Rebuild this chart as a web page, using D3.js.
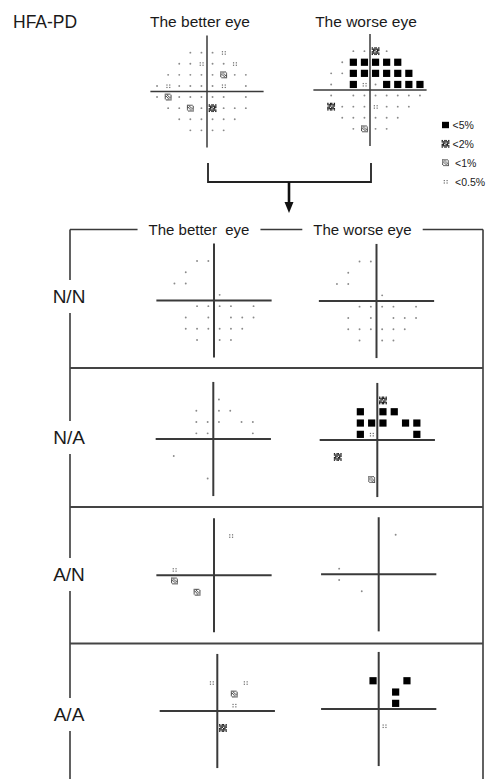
<!DOCTYPE html>
<html><head><meta charset="utf-8">
<script src="https://cdn.jsdelivr.net/npm/d3@7"></script>
<style>
body{margin:0;background:#fff}
svg{display:block}
text{font-family:"Liberation Sans",Arial,sans-serif;fill:#1a1a1a;white-space:pre}
</style>
</head><body>
<svg id="c" width="488" height="779"></svg>
<script>
// ---------------- DATA ----------------
// levels: 0 = normal point, 1 = "::", 2 = "<1%" glyph, 3 = "<2%" glyph, 4 = black square
const legendLevels = [4, 3, 2, 1];
const legendLabels = ["<5%", "<2%", "<1%", "<0.5%"];
const headerTitle = "HFA-PD";
const topTitles = ["The better eye", "The worse eye"];
const columnTitles = ["The better  eye", "The worse eye"];
const rowLabels = ["N/N", "N/A", "A/N", "A/A"];

// top fields, row by row: [row, first column, levels...] (null = blind spot)
const topBetterRows = [
  [-3.5, -1.5, 0, 0, 0, 1],
  [-2.5, -2.5, 0, 0, 1, 0, 0, 1],
  [-1.5, -3.5, 0, 0, 0, 0, 0, 2, 0, 0],
  [-0.5, -4.5, 0, 1, 0, 0, 0, 0, 1, null, 0],
  [ 0.5, -4.5, 0, 2, 0, 0, 0, 0, 0, null, 0],
  [ 1.5, -3.5, 0, 0, 2, 0, 3, 0, 0, 0],
  [ 2.5, -2.5, 0, 0, 0, 0, 0, 0],
  [ 3.5, -1.5, 0, 0, 0, 0]
];
const topWorseRows = [
  [-3.5, -1.5, 0, 0, 3, 0],
  [-2.5, -2.5, 0, 4, 4, 4, 4, 4],
  [-1.5, -3.5, 0, 0, 4, 4, 4, 4, 4, 4],
  [-0.5, -3.5, 0, null, 4, 1, 0, 4, 4, 4, 4],
  [ 0.5, -3.5, 0, null, 0, 0, 0, 0, 0, 0, 0],
  [ 1.5, -3.5, 3, 0, 0, 0, 1, 0, 0, 0],
  [ 2.5, -2.5, 0, 0, 0, 0, 0, 0],
  [ 3.5, -1.5, 0, 2, 0, 0]
];

// lower panels: [column, row, level]
const nnBetter = [[-1.5,-3.5,0],[-0.5,-3.5,0],[-2.5,-2.5,0],[-3.5,-1.5,0],[-2.5,-1.5,0],[0.5,-0.5,0],
  [-1.5,0.5,0],[-0.5,0.5,0],[0.5,0.5,0],[1.5,0.5,0],[3.5,0.5,0],
  [-2.5,1.5,0],[-0.5,1.5,0],[1.5,1.5,0],[2.5,1.5,0],[3.5,1.5,0],
  [-2.5,2.5,0],[-1.5,2.5,0],[-0.5,2.5,0],[0.5,2.5,0],[1.5,2.5,0],[2.5,2.5,0],
  [-1.5,3.5,0],[0.5,3.5,0],[1.5,3.5,0]];
const nnWorse = [[-1.5,-3.5,0],[-0.5,-3.5,0],[-2.5,-2.5,0],[-3.5,-1.5,0],[-2.5,-1.5,0],[0.5,-0.5,0],
  [-1.5,0.5,0],[-0.5,0.5,0],[0.5,0.5,0],[1.5,0.5,0],[3.5,0.5,0],
  [-2.5,1.5,0],[-0.5,1.5,0],[1.5,1.5,0],[2.5,1.5,0],[3.5,1.5,0],
  [-2.5,2.5,0],[-1.5,2.5,0],[-0.5,2.5,0],[0.5,2.5,0],[1.5,2.5,0],[2.5,2.5,0],
  [-1.5,3.5,0],[0.5,3.5,0],[1.5,3.5,0]];
const naBetter = [[0.5,-3.5,0],[-1.5,-2.5,0],[0.5,-2.5,0],[1.5,-2.5,0],
  [-1.5,-1.5,0],[-0.5,-1.5,0],[0.5,-1.5,0],[2.5,-1.5,0],[3.5,-1.5,0],
  [-1.5,-0.5,0],[-0.5,-0.5,0],[3.5,-0.5,0],[-3.5,1.5,0],[-0.5,3.5,0]];
const naWorse = [[0.5,-3.5,3],[-1.5,-2.5,4],[0.5,-2.5,4],[1.5,-2.5,4],
  [-1.5,-1.5,4],[-0.5,-1.5,4],[0.5,-1.5,4],[2.5,-1.5,4],[3.5,-1.5,4],
  [-1.5,-0.5,4],[-0.5,-0.5,1],[3.5,-0.5,4],[-3.5,1.5,3],[-0.5,3.5,2]];
const anBetter = [[1.5,-3.5,1],[-3.5,-0.5,1],[-3.5,0.5,2],[-1.5,1.5,2]];
const anWorse = [[1.5,-3.5,0],[-3.5,-0.5,0],[-3.5,0.5,0],[-1.5,1.5,0]];
const aaBetter = [[-0.5,-2.5,1],[2.5,-2.5,1],[1.5,-1.5,2],[1.5,-0.5,1],[0.5,1.5,3]];
const aaWorse = [[-0.5,-2.5,4],[2.5,-2.5,4],[1.5,-1.5,4],[1.5,-0.5,4],[0.5,1.5,1]];

// ---------------- DRAWING ----------------
const svg = d3.select("#c");
const LINE = "#3a3a3a";

const glyph2 = ["111110","101001","110101","101011","100101","011111"];
const glyph3 = ["101101","111111","011011","110110","111111","101101"];

function drawSymbol(g, x, y, lv) {
  if (lv === 0) {
    g.append("circle").attr("cx", x).attr("cy", y).attr("r", 0.95).attr("fill", "#8a8a8a");
  } else if (lv === 1) {
    [[-1.8,-1.5],[1.0,-1.5],[-1.8,0.9],[1.0,0.9]].forEach(([dx,dy]) =>
      g.append("rect").attr("x", x+dx).attr("y", y+dy).attr("width", 1.2).attr("height", 1.2).attr("fill", "#6a6a6a"));
  } else if (lv === 2 || lv === 3) {
    const pat = lv === 2 ? glyph2 : glyph3;
    const c = lv === 2 ? 1.15 : 1.3;
    const col = lv === 2 ? "#555" : "#1a1a1a";
    pat.forEach((r, i) => r.split("").forEach((ch, j) => {
      if (ch === "1") g.append("rect").attr("x", x - 3*c + j*c).attr("y", y - 3*c + i*c)
        .attr("width", c).attr("height", c).attr("fill", col);
    }));
  } else if (lv === 4) {
    g.append("rect").attr("x", x-3.6).attr("y", y-3.6).attr("width", 7.2).attr("height", 7.2).attr("fill", "#000");
  }
}

function field(cx, cy, step, points, axisW) {
  const x = d3.scaleLinear().domain([-5, 5]).range([cx - 5*step, cx + 5*step]);
  const y = d3.scaleLinear().domain([-5, 5]).range([cy - 5*step, cy + 5*step]);
  const g = svg.append("g");
  g.append("line").attr("x1", x(-5.1)).attr("x2", x(5.1)).attr("y1", y(0)).attr("y2", y(0))
    .attr("stroke", LINE).attr("stroke-width", axisW);
  g.append("line").attr("x1", x(0)).attr("x2", x(0)).attr("y1", y(-5.05)).attr("y2", y(5.05))
    .attr("stroke", LINE).attr("stroke-width", axisW);
  points.forEach(p => drawSymbol(g, x(p[0]), y(p[1]), p[2]));
}

function rowsToPoints(rows) {
  const out = [];
  rows.forEach(r => {
    const [row, start, ...lv] = r;
    lv.forEach((v, i) => { if (v !== null) out.push([start + i, row, v]); });
  });
  return out;
}

// header
svg.append("text").attr("x", 13).attr("y", 28).attr("font-size", 17.5).text(headerTitle);
svg.append("text").attr("x", 200).attr("y", 27).attr("text-anchor", "middle").attr("font-size", 15.5).text(topTitles[0]);
svg.append("text").attr("x", 366).attr("y", 27).attr("text-anchor", "middle").attr("font-size", 15.5).text(topTitles[1]);

field(207, 91.5, 11.1, rowsToPoints(topBetterRows), 1.5);
field(370, 90, 11.1, rowsToPoints(topWorseRows), 1.5);

// legend
const lg = svg.append("g");
const ly = d3.scaleLinear().domain([0, 3]).range([125, 181.5]);
legendLevels.forEach((lv, i) => {
  if (lv === 4) lg.append("rect").attr("x", 442).attr("y", ly(i)-3.2).attr("width", 7).attr("height", 6.4).attr("fill", "#000");
  else drawSymbol(lg, 445.5, ly(i), lv);
  lg.append("text").attr("x", i < 2 ? 452.5 : 455).attr("y", ly(i) + 4).attr("font-size", 10.5).text(legendLabels[i]);
});

// bracket and arrow
svg.append("path").attr("d", "M208,163V182H371V163").attr("fill", "none").attr("stroke", "#222").attr("stroke-width", 1.8);
svg.append("line").attr("x1", 289).attr("x2", 289).attr("y1", 182).attr("y2", 204).attr("stroke", "#111").attr("stroke-width", 2.6);
svg.append("path").attr("d", "M284.5,202H293.5L289,213Z").attr("fill", "#111");

// frame
const frameL = 70, frameR = 483, frameT = 229.5;
const sepY = [368, 507, 643.5];
const labelBase = [303, 444, 581, 721];
svg.append("line").attr("x1", frameL).attr("x2", frameR).attr("y1", frameT).attr("y2", frameT).attr("stroke", LINE).attr("stroke-width", 1.6);
svg.append("line").attr("x1", frameL).attr("x2", frameL).attr("y1", frameT).attr("y2", 779).attr("stroke", LINE).attr("stroke-width", 1.6);
svg.append("line").attr("x1", frameR).attr("x2", frameR).attr("y1", frameT).attr("y2", 779).attr("stroke", LINE).attr("stroke-width", 1.6);
sepY.forEach(yy => svg.append("line").attr("x1", frameL).attr("x2", frameR).attr("y1", yy).attr("y2", yy).attr("stroke", "#444").attr("stroke-width", 2));

function maskedText(x, y, txt, size, padX, padY) {
  const t = svg.append("text").attr("x", x).attr("y", y).attr("text-anchor", "middle").attr("font-size", size).text(txt);
  const b = t.node().getBBox();
  svg.insert("rect", () => t.node()).attr("x", b.x - padX).attr("y", b.y - padY)
    .attr("width", b.width + 2*padX).attr("height", b.height + 2*padY).attr("fill", "#fff");
}
maskedText(199, 234.5, columnTitles[0], 15, 11, 0);
maskedText(362.5, 234.5, columnTitles[1], 15, 11, 0);
rowLabels.forEach((lab, i) => maskedText(69, labelBase[i], lab, 19, 2, 6));

// lower panels
const panels = [
  [214, 300.5, nnBetter], [376.5, 301, nnWorse],
  [213.3, 439, naBetter], [377.3, 440, naWorse],
  [214, 575.3, anBetter], [378.7, 574.3, anWorse],
  [217.3, 711, aaBetter], [378.7, 709, aaWorse]
];
panels.forEach(([cx, cy, pts]) => field(cx, cy, 11.3, pts, 2));
</script>
</body></html>
